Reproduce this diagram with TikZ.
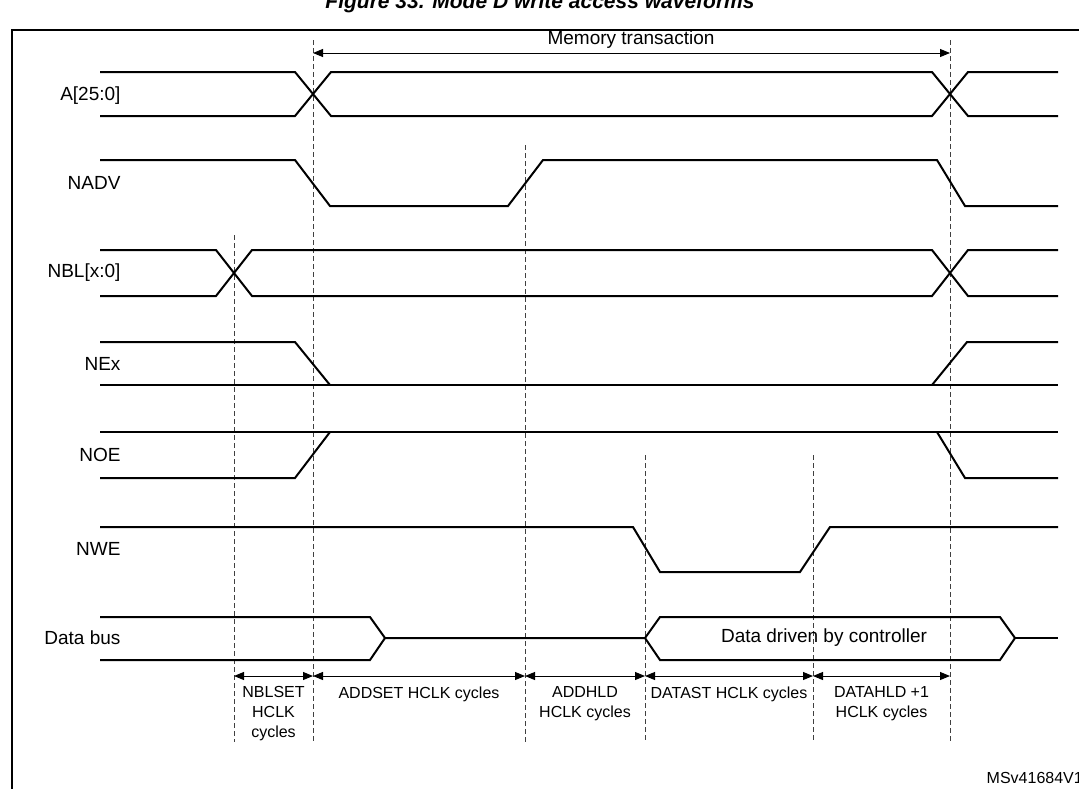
\documentclass[tikz,border=0pt]{standalone}
\usepackage{fontspec}
\setmainfont{Liberation Sans}
\usetikzlibrary{arrows.meta}
\begin{document}
\begin{tikzpicture}[x=1pt,y=-1pt,
  sig/.style={line width=2pt},
  grid/.style={line width=0.6pt,dash pattern=on 5pt off 3pt,black!75},
  span/.style={line width=1pt,{Triangle[length=10pt,width=8pt]}-{Triangle[length=10pt,width=8pt]}},
  lbl/.style={anchor=east,font=\fontsize{19}{21}\selectfont},
  txt/.style={font=\fontsize{19}{21}\selectfont},
  small/.style={font=\fontsize{16}{20}\selectfont,align=center,anchor=north}]
\useasboundingbox (0,0) rectangle (1079,788);
\clip (0,0) rectangle (1079,788);
% title and frame
\node[font=\fontsize{21}{23}\selectfont\bfseries\itshape] (title) at (540,3) {Figure 33. Mode D write access waveforms};
\draw[line width=2pt] (12,1100) -- (12,30) -- (1100,30);
% timing grid
\draw[grid] (313,40) -- (313,742);
\draw[grid] (950,40) -- (950,742);
\draw[grid] (234,235) -- (234,742);
\draw[grid] (525,145) -- (525,742);
\draw[grid] (645,455) -- (645,742);
\draw[grid] (813,455) -- (813,742);
% memory transaction
\coordinate (mt1) at (313,53);
\coordinate (mt2) at (950,53);
\draw[span] (mt1) -- (mt2);
\node[txt] (mt) at (631,40) {Memory transaction};
% signal names
\node[lbl] (la) at (124,96) {A[25:0]};
\node[lbl] (lnadv) at (124,183) {NADV};
\node[lbl] (lnbl) at (124,273) {NBL[x:0]};
\node[lbl] (lnex) at (124,364) {NEx};
\node[lbl] (lnoe) at (124,455) {NOE};
\node[lbl] (lnwe) at (124,549) {NWE};
\node[lbl] (ldata) at (124,638) {Data bus};
% A[25:0]
\draw[sig] (100,72) -- (295,72) -- (331,116) -- (932,116) -- (968,72) -- (1058,72);
\draw[sig] (100,116) -- (295,116) -- (331,72) -- (932,72) -- (968,116) -- (1058,116);
% NADV
\draw[sig] (100,160) -- (295,160) -- (330,206) -- (508,206) -- (543,160) -- (937,160) -- (965,206) -- (1058,206);
% NBL[x:0]
\draw[sig] (100,250) -- (216,250) -- (252,296) -- (932,296) -- (968,250) -- (1058,250);
\draw[sig] (100,296) -- (216,296) -- (252,250) -- (932,250) -- (968,296) -- (1058,296);
% NEx
\draw[sig] (100,342) -- (295,342) -- (330,385);
\draw[sig] (100,385) -- (1058,385);
\draw[sig] (932,385) -- (967,342) -- (1058,342);
% NOE
\draw[sig] (100,432) -- (1058,432);
\draw[sig] (100,478) -- (295,478) -- (330,432);
\draw[sig] (937,432) -- (965,478) -- (1058,478);
% NWE
\draw[sig] (100,527) -- (633,527) -- (660,572) -- (800,572) -- (830,527) -- (1058,527);
% Data bus
\draw[sig] (100,617) -- (370,617) -- (385,638) -- (370,660) -- (100,660);
\draw[sig] (385,638) -- (645,638) -- (660,617) -- (1000,617) -- (1015,638) -- (1000,660) -- (660,660) -- (645,638);
\draw[sig] (1015,638) -- (1058,638);
\node[txt] (drv) at (824,638) {Data driven by controller};
% phase spans
\coordinate (p0) at (234,676);
\coordinate (p1) at (313,676);
\coordinate (p2) at (525,676);
\coordinate (p3) at (645,676);
\coordinate (p4) at (813,676);
\coordinate (p5) at (950,676);
\draw[span] (p0) -- (p1);
\draw[span] (p1) -- (p2);
\draw[span] (p2) -- (p3);
\draw[span] (p3) -- (p4);
\draw[span] (p4) -- (p5);
\node[small] (s1) at (273.5,683) {NBLSET\\HCLK\\cycles};
\node[small] (s2) at (419,683) {ADDSET HCLK cycles};
\node[small] (s3) at (585,683) {ADDHLD\\HCLK cycles};
\node[small] (s4) at (729,683) {DATAST HCLK cycles};
\node[small] (s5) at (881.5,683) {DATAHLD +1\\HCLK cycles};
\node[font=\fontsize{16}{18}\selectfont,anchor=east,inner sep=0pt] (ref) at (1083,778) {MSv41684V1};
\end{tikzpicture}
\end{document}
